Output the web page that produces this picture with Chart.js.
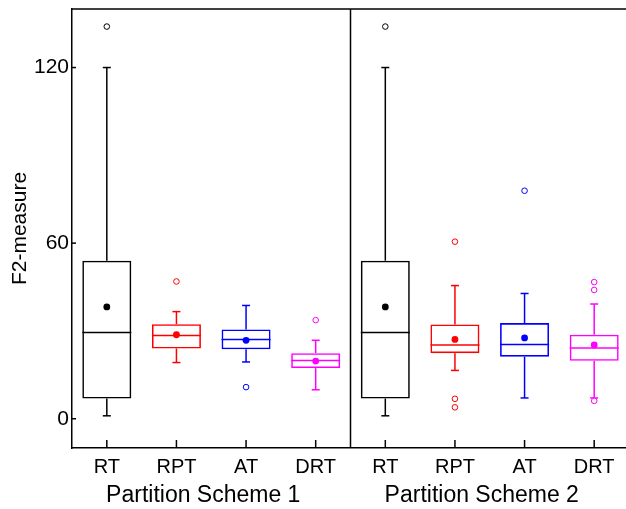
<!DOCTYPE html>
<html>
<head>
<meta charset="utf-8">
<script src="https://cdn.jsdelivr.net/npm/chart.js@4/dist/chart.umd.min.js"></script>
<style>
  html, body { margin: 0; padding: 0; background: #fff; overflow: hidden; }
  #wrap { width: 640px; height: 509px; }
</style>
</head>
<body>
<div id="wrap"><canvas id="c" width="640" height="509"></canvas></div>
<script>
// ---- data ----
const categories = ['RT', 'RPT', 'AT', 'DRT'];
const schemes = ['Partition Scheme 1', 'Partition Scheme 2'];
const yTicks = [0, 60, 120];
// order: Scheme 1 RT, RPT, AT, DRT, then Scheme 2 RT, RPT, AT, DRT
const whiskerLow  = [1.0, 19.2, 19.4, 9.9, 1.0, 16.5, 7.1, 7.1];
const q1          = [6.9, 24.0, 23.7, 17.3, 6.9, 22.4, 21.2, 19.8];
const median      = [29.5, 28.4, 27.1, 19.9, 29.5, 25.2, 25.4, 24.2];
const q3          = [54.0, 32.3, 30.5, 22.4, 54.0, 32.2, 32.7, 28.7];
const whiskerHigh = [120.0, 36.6, 38.7, 26.8, 120.0, 45.5, 42.8, 39.2];
const means       = [38.2, 28.7, 26.8, 19.7, 38.2, 27.1, 27.6, 25.2];
const outliers    = [[134.0], [46.9], [10.8], [33.7], [134.0], [60.5, 6.8, 3.9], [77.9], [46.7, 44.0, 6.1]];

// ---- styles ----
const palette = ['#000000', '#ff0000', '#0000ff', '#ff00ff'];
const FONT = "'Liberation Sans', Arial, sans-serif";

// ---- derived structures for the library ----
const keys = [];
schemes.forEach((s, si) => categories.forEach(c => keys.push(si + '|' + c)));
const colors = keys.map((k, i) => palette[i % categories.length]);
const boxData = keys.map((k, i) => [q1[i], q3[i]]);
const meanData = keys.map((k, i) => ({x: k, y: means[i]}));
const outData = [];
const outColors = [];
keys.forEach((k, i) => outliers[i].forEach(v => { outData.push({x: k, y: v}); outColors.push(colors[i]); }));

Chart.defaults.font.family = FONT;
Chart.defaults.color = '#000';

const boxParts = {
  id: 'boxParts',
  beforeDatasetsDraw(chart) {
    const {ctx, scales: {x, y}} = chart;
    const bars = chart.getDatasetMeta(0).data;
    ctx.save();
    ctx.lineWidth = 1.5;
    ctx.lineCap = 'butt';
    const line = (x1, y1, x2, y2) => { ctx.beginPath(); ctx.moveTo(x1, y1); ctx.lineTo(x2, y2); ctx.stroke(); };
    keys.forEach((k, i) => {
      const cx = x.getPixelForValue(i);
      const half = bars[i].width / 2;
      ctx.strokeStyle = colors[i];
      line(cx - half, y.getPixelForValue(median[i]), cx + half, y.getPixelForValue(median[i]));
      line(cx, y.getPixelForValue(q3[i]), cx, y.getPixelForValue(whiskerHigh[i]));
      line(cx, y.getPixelForValue(q1[i]), cx, y.getPixelForValue(whiskerLow[i]));
      line(cx - 4, y.getPixelForValue(whiskerHigh[i]), cx + 4, y.getPixelForValue(whiskerHigh[i]));
      line(cx - 4, y.getPixelForValue(whiskerLow[i]), cx + 4, y.getPixelForValue(whiskerLow[i]));
    });
    ctx.restore();
  },
  afterDraw(chart) {
    const {ctx, chartArea: a, scales: {x, y}} = chart;
    ctx.save();
    ctx.strokeStyle = '#000';
    ctx.lineWidth = 1.5;
    const line = (x1, y1, x2, y2) => { ctx.beginPath(); ctx.moveTo(x1, y1); ctx.lineTo(x2, y2); ctx.stroke(); };
    // top frame line
    line(a.left, a.top, chart.width, a.top);
    // divider between the two partition schemes
    const n = categories.length;
    const dx = (x.getPixelForValue(n - 1) + x.getPixelForValue(n)) / 2;
    line(dx, a.top, dx, a.bottom);
    // inward x ticks
    keys.forEach((k, i) => { const px = x.getPixelForValue(i); line(px, a.bottom, px, a.bottom - 8); });
    // inward y ticks
    yTicks.forEach(v => { const py = y.getPixelForValue(v); line(a.left, py, a.left + 4, py); });
    ctx.restore();
  }
};

new Chart(document.getElementById('c'), {
  type: 'bar',
  data: {
    labels: keys,
    datasets: [
      {
        type: 'bar',
        data: boxData,
        backgroundColor: 'rgba(0,0,0,0)',
        borderColor: colors,
        borderWidth: 1.6,
        borderSkipped: false,
        categoryPercentage: 1,
        barPercentage: 0.704,
        order: 3
      },
      {
        type: 'line',
        data: meanData,
        showLine: false,
        pointRadius: 3.4,
        pointBorderWidth: 0,
        pointBackgroundColor: colors,
        pointBorderColor: colors,
        order: 1
      },
      {
        type: 'line',
        data: outData,
        showLine: false,
        pointRadius: 2.8,
        pointBorderWidth: 1,
        pointBackgroundColor: '#fff',
        pointBorderColor: outColors,
        order: 2
      }
    ]
  },
  options: {
    responsive: false,
    animation: false,
    devicePixelRatio: 1,
    layout: { padding: { top: 9, right: 11, left: 0, bottom: 0 } },
    plugins: { legend: { display: false }, tooltip: { enabled: false } },
    scales: {
      x: {
        type: 'category',
        position: 'bottom',
        offset: true,
        weight: 0,
        grid: { display: false, drawTicks: false },
        border: { display: true, color: '#000', width: 1.5 },
        ticks: {
          autoSkip: false, maxRotation: 0, minRotation: 0, padding: 7,
          font: { size: 20 },
          callback: (v, i) => categories[i % categories.length]
        },
        afterFit(s) { s.height = 30; s.paddingLeft = 0; s.paddingRight = 0; }
      },
      x2: {
        type: 'category',
        position: 'bottom',
        labels: schemes,
        offset: true,
        display: true,
        weight: 1,
        grid: { display: false, drawTicks: false },
        border: { display: false },
        ticks: { autoSkip: false, maxRotation: 0, minRotation: 0, padding: 4, labelOffset: -8, font: { size: 23 } },
        afterFit(s) { s.height = 31; s.paddingLeft = 0; s.paddingRight = 0; }
      },
      y: {
        type: 'linear',
        min: -10,
        max: 140,
        grid: { display: false, drawTicks: false },
        border: { display: true, color: '#000', width: 1.5 },
        afterBuildTicks(s) { s.ticks = yTicks.map(v => ({value: v})); },
        ticks: { padding: 3, font: { size: 21 } },
        title: { display: true, text: 'F2-measure', font: { size: 21 }, padding: { top: 8, bottom: 0 } },
        afterFit(s) { s.width = 72; s.paddingTop = 0; s.paddingBottom = 0; }
      }
    }
  },
  plugins: [boxParts]
});
</script>
</body>
</html>
